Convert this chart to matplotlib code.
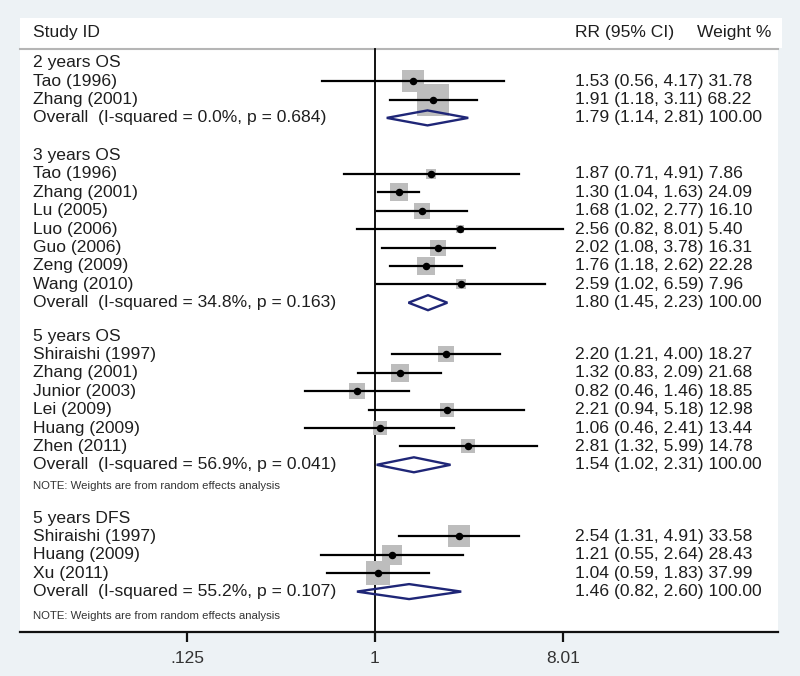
import numpy as np
import matplotlib
matplotlib.use("Agg")
import matplotlib.pyplot as plt
from matplotlib.patches import Polygon, Rectangle

plt.rcParams['font.family'] = ['Liberation Sans', 'DejaVu Sans']

# ---- data ----
groups = ["2 years OS", "3 years OS", "5 years OS", "5 years DFS"]

studies = [
    ["Tao (1996)", "Zhang (2001)"],
    ["Tao (1996)", "Zhang (2001)", "Lu (2005)", "Luo (2006)", "Guo (2006)",
     "Zeng (2009)", "Wang (2010)"],
    ["Shiraishi (1997)", "Zhang (2001)", "Junior (2003)", "Lei (2009)",
     "Huang (2009)", "Zhen (2011)"],
    ["Shiraishi (1997)", "Huang (2009)", "Xu (2011)"],
]
rr = [
    [1.53, 1.91],
    [1.87, 1.30, 1.68, 2.56, 2.02, 1.76, 2.59],
    [2.20, 1.32, 0.82, 2.21, 1.06, 2.81],
    [2.54, 1.21, 1.04],
]
lo = [
    [0.56, 1.18],
    [0.71, 1.04, 1.02, 0.82, 1.08, 1.18, 1.02],
    [1.21, 0.83, 0.46, 0.94, 0.46, 1.32],
    [1.31, 0.55, 0.59],
]
hi = [
    [4.17, 3.11],
    [4.91, 1.63, 2.77, 8.01, 3.78, 2.62, 6.59],
    [4.00, 2.09, 1.46, 5.18, 2.41, 5.99],
    [4.91, 2.64, 1.83],
]
weight = [
    [31.78, 68.22],
    [7.86, 24.09, 16.10, 5.40, 16.31, 22.28, 7.96],
    [18.27, 21.68, 18.85, 12.98, 13.44, 14.78],
    [33.58, 28.43, 37.99],
]
pooled = [1.79, 1.80, 1.54, 1.46]
pooled_lo = [1.14, 1.45, 1.02, 0.82]
pooled_hi = [2.81, 2.23, 2.31, 2.60]
i_squared = ["0.0", "34.8", "56.9", "55.2"]
p_het = ["0.684", "0.163", "0.041", "0.107"]
has_note = [False, False, True, True]

tick_vals = [0.125, 1, 8.01]
tick_labels = [".125", "1", "8.01"]

# ---- layout (pixel rows, y grows downward) ----
W, H = 800, 676
left_px, right_px, top_px, bot_px = 20, 778, 18, 632
block_start = [62.7, 155.5, 336.0, 518.0]
row_step = 18.4
note_gap = [0, 0, 21, 24]
x_left_lim, x_right_lim = 2 ** -5.666, 2 ** 6.436

bg = "#edf2f5"
txt = "#1e1e1e"
box_col = "#bdbdbd"
dia_col = "#1f2677"
px_w = 3.85  # square side (px) per sqrt(weight)
fs = 12.6

fig = plt.figure(figsize=(W / 100, H / 100), dpi=100, facecolor=bg)
ax = fig.add_axes([left_px / W, 1 - bot_px / H,
                   (right_px - left_px) / W, (bot_px - top_px) / H])
ax.set_facecolor("white")
ax.set_xscale("log", base=2)
ax.set_xlim(x_left_lim, x_right_lim)
ax.set_ylim(bot_px, top_px)

# header strip slightly wider than the panel
fig.patches.append(Rectangle((left_px / W, 1 - 48 / H), (782 - left_px) / W, 30 / H,
                             transform=fig.transFigure, facecolor="white",
                             edgecolor="none", zorder=-1))

for s in ["top", "left", "right"]:
    ax.spines[s].set_visible(False)
ax.spines["bottom"].set_linewidth(1.6)
ax.spines["bottom"].set_color("#111111")
ax.set_yticks([])
ax.set_xticks(tick_vals)
ax.set_xticklabels(tick_labels)
ax.minorticks_off()
ax.tick_params(axis="x", length=7.5, width=1.6, color="#111111",
               labelsize=12.5, labelcolor="#333333", pad=6)

tr = ax.get_yaxis_transform()  # x: axes fraction, y: data


def fx(px):
    return (px - left_px) / (right_px - left_px)


# column headers and separator
ax.text(fx(33), 33, "Study ID", transform=tr, fontsize=fs, color=txt, va="center")
ax.text(fx(575), 33, "RR (95% CI)", transform=tr, fontsize=fs, color=txt, va="center")
ax.text(fx(771), 33, "Weight %", transform=tr, fontsize=fs, color=txt,
        va="center", ha="right")
ax.plot([0, 1], [48.5, 48.5], transform=tr, color="#b5b5b5", lw=1.5, clip_on=False)

# reference line at 1
ax.plot([1, 1], [49, bot_px], color="black", lw=1.3, zorder=2)

for g in range(len(groups)):
    y0 = block_start[g]
    ax.text(fx(33), y0, groups[g], transform=tr, fontsize=fs, color=txt, va="center")
    for k, name in enumerate(studies[g]):
        y = y0 + (k + 1) * row_step
        side = px_w * np.sqrt(weight[g][k]) * 0.72
        ax.scatter([rr[g][k]], [y], marker="s", s=side ** 2, color=box_col,
                   linewidths=0, zorder=3)
        ax.plot([lo[g][k], hi[g][k]], [y, y], color="black", lw=1.6, zorder=4)
        ax.plot([rr[g][k]], [y], marker="o", ms=4.4, color="black", zorder=5)
        ax.text(fx(33), y, name, transform=tr, fontsize=fs, color=txt, va="center")
        ax.text(fx(575), y, "%.2f (%.2f, %.2f) %.2f" % (rr[g][k], lo[g][k], hi[g][k], weight[g][k]),
                transform=tr, fontsize=fs, color=txt, va="center")
    y = y0 + (len(studies[g]) + 1) * row_step
    dia = Polygon([[pooled_lo[g], y], [pooled[g], y - 7.5], [pooled_hi[g], y],
                   [pooled[g], y + 7.5]], closed=True, fill=False,
                  edgecolor=dia_col, lw=1.7, zorder=4)
    ax.add_patch(dia)
    ax.text(fx(33), y, "Overall  (I-squared = %s%%, p = %s)" % (i_squared[g], p_het[g]),
            transform=tr, fontsize=fs, color=txt, va="center")
    ax.text(fx(575), y, "%.2f (%.2f, %.2f) 100.00" % (pooled[g], pooled_lo[g], pooled_hi[g]),
            transform=tr, fontsize=fs, color=txt, va="center")
    if has_note[g]:
        ax.text(fx(33), y + note_gap[g], "NOTE: Weights are from random effects analysis",
                transform=tr, fontsize=8.2, color="#333333", va="center")

fig.savefig("out.png", dpi=100, facecolor=bg)
